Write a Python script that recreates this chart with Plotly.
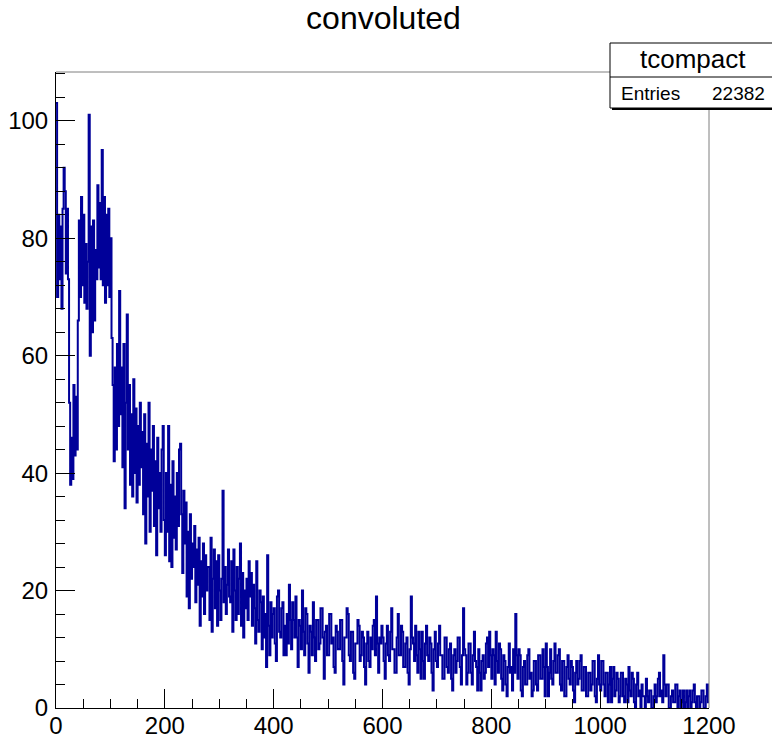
import plotly.graph_objects as go

# ---- data (bin width 2) ----
bin_width = 2
x_start = 0
counts_0_200 = [103, 70, 84, 73, 82, 68, 85, 92, 88, 74, 85, 73, 52, 38, 46, 39, 55, 43, 53, 44,
                66, 83, 70, 87, 72, 84, 69, 79, 68, 76, 101, 60, 82, 64, 83, 66, 78, 73, 89, 75,
                86, 73, 95, 72, 87, 69, 84, 72, 85, 70, 80, 63, 55, 42, 58, 44, 62, 48, 71, 50,
                58, 41, 62, 34, 52, 67, 44, 55, 38, 50, 36, 56, 40, 51, 35, 48, 38, 52, 41, 47,
                33, 50, 28, 45, 36, 52, 30, 44, 37, 48, 31, 42, 26, 46, 34, 40, 30, 44, 48, 32]
counts_200_400 = [26, 40, 30, 48, 25, 38, 24, 42, 29, 36, 27, 40, 31, 44, 45, 33, 23, 37, 28, 35,
                  19, 30, 17, 33, 22, 28, 24, 31, 18, 27, 21, 29, 14, 25, 19, 28, 16, 26, 20, 24,
                  24, 15, 29, 13, 22, 27, 17, 25, 14, 26, 20, 15, 22, 37, 18, 24, 16, 21, 27, 19,
                  18, 25, 13, 27, 20, 15, 24, 16, 22, 28, 14, 23, 12, 20, 17, 22, 15, 25, 19, 23,
                  14, 21, 17, 11, 25, 15, 13, 20, 18, 10, 19, 12, 16, 7, 26, 14, 9, 18, 12, 16]
counts_400_600 = [17, 11, 8, 19, 20, 13, 12, 17, 18, 9, 14, 9, 16, 11, 21, 15, 10, 18, 15, 12,
                  19, 12, 7, 15, 14, 10, 20, 13, 9, 17, 16, 11, 6, 14, 13, 9, 18, 12, 8, 15,
                  15, 10, 11, 17, 17, 12, 5, 13, 14, 9, 9, 16, 16, 11, 12, 7, 6, 14, 13, 10,
                  10, 15, 15, 8, 4, 12, 12, 17, 16, 9, 8, 13, 13, 6, 5, 11, 11, 15, 14, 8,
                  9, 13, 12, 7, 4, 11, 13, 8, 7, 12, 10, 14, 15, 9, 19, 11, 6, 12, 11, 14]
counts_600_800 = [12, 8, 5, 11, 14, 9, 8, 13, 17, 10, 10, 6, 6, 12, 16, 9, 9, 14, 13, 7,
                  7, 11, 12, 6, 4, 10, 19, 12, 11, 8, 14, 9, 6, 13, 10, 5, 13, 8, 5, 11,
                  14, 9, 8, 12, 11, 6, 3, 10, 13, 8, 7, 11, 14, 9, 9, 5, 5, 12, 12, 7,
                  6, 10, 11, 5, 3, 9, 10, 6, 8, 12, 12, 7, 4, 9, 17, 10, 9, 4, 6, 11,
                  11, 6, 4, 9, 13, 8, 7, 3, 10, 6, 3, 8, 9, 5, 6, 11, 12, 7, 13, 9]
counts_800_1000 = [5, 10, 9, 4, 13, 8, 6, 11, 10, 5, 3, 9, 8, 4, 2, 7, 11, 6, 7, 3,
                   10, 6, 16, 9, 5, 10, 9, 3, 2, 7, 8, 4, 4, 9, 10, 5, 6, 2, 3, 8,
                   8, 4, 3, 9, 9, 5, 5, 10, 7, 2, 11, 7, 2, 6, 10, 5, 4, 8, 11, 6,
                   6, 9, 10, 4, 3, 8, 8, 2, 2, 7, 9, 5, 4, 8, 7, 3, 1, 6, 8, 4,
                   5, 8, 9, 3, 3, 7, 7, 2, 2, 6, 6, 3, 4, 8, 8, 2, 1, 5, 9, 4]
counts_1000_1200 = [3, 8, 8, 4, 2, 6, 6, 1, 4, 7, 1, 5, 7, 2, 3, 6, 5, 1, 2, 6,
                    6, 2, 1, 5, 4, 1, 7, 3, 2, 6, 5, 1, 0, 4, 6, 2, 3, 0, 4, 2,
                    2, 0, 5, 2, 1, 3, 3, 0, 0, 2, 4, 1, 2, 5, 6, 2, 3, 1, 9, 4,
                    2, 4, 4, 0, 0, 2, 3, 1, 1, 4, 4, 0, 2, 3, 0, 1, 3, 0, 1, 3,
                    0, 2, 3, 0, 1, 3, 4, 1, 0, 2, 2, 0, 1, 3, 3, 0, 0, 2, 4, 1]

title_text = "convoluted"
stats_name = "tcompact"
stats_label = "Entries"
stats_entries = "22382"
x_range = [0, 1200]
y_range = [0, 108.3]

counts = (counts_0_200 + counts_200_400 + counts_400_600 +
          counts_600_800 + counts_800_1000 + counts_1000_1200)
edges = [x_start + i * bin_width for i in range(len(counts) + 1)]
ys = counts + [counts[-1]]

# ---- layout geometry (pixels) ----
W, H = 772, 740
L, R, T, B = 56, 709, 72, 708
FONT = "Liberation Sans, Arial, Helvetica, sans-serif"


def px_x(p):
    return (p - L) / (R - L)


def px_y(p):
    return (B - p) / (B - T)


fig = go.Figure()
fig.add_trace(go.Scatter(
    x=edges, y=ys, mode="lines",
    line=dict(shape="hv", color="#000099", width=2),
    hoverinfo="skip", showlegend=False,
))

axis_common = dict(
    showgrid=False, zeroline=False, automargin=False,
    showline=True, linecolor="black", linewidth=1,
    ticks="inside", tickcolor="black", tickwidth=1, ticklen=19,
    tickfont=dict(family=FONT, size=24, color="black"),
)

fig.update_layout(
    width=W, height=H,
    margin=dict(l=L, r=W - R, t=T, b=H - B, pad=0, autoexpand=False),
    paper_bgcolor="white", plot_bgcolor="white",
    title=dict(text=title_text, x=383.5 / W, xref="container", xanchor="center",
               y=1 - 18 / H, yref="container", yanchor="middle",
               font=dict(family=FONT, size=32, color="black")),
    xaxis=dict(range=x_range, tickmode="linear", tick0=0, dtick=200,
               minor=dict(ticks="inside", ticklen=9, tickcolor="black", tick0=0, dtick=50, showgrid=False),
               ticklabelstandoff=-4,
               **axis_common),
    yaxis=dict(range=y_range, tickmode="linear", tick0=0, dtick=20,
               minor=dict(ticks="inside", ticklen=9, tickcolor="black", tick0=0, dtick=4, showgrid=False),
               ticklabelstandoff=2,
               **axis_common),
    showlegend=False,
)

shapes = [
    # frame top and right
    dict(type="line", xref="paper", yref="paper", x0=0, x1=1, y0=1, y1=1,
         line=dict(color="#7f7f7f", width=1)),
    dict(type="line", xref="paper", yref="paper", x0=1, x1=1, y0=0, y1=1,
         line=dict(color="#7f7f7f", width=1)),
    # stats box shadow
    dict(type="rect", xref="paper", yref="paper",
         x0=px_x(612), x1=px_x(776), y0=px_y(110), y1=px_y(45),
         fillcolor="black", line=dict(width=0)),
    # stats box
    dict(type="rect", xref="paper", yref="paper",
         x0=px_x(610), x1=px_x(774), y0=px_y(108), y1=px_y(43),
         fillcolor="white", line=dict(color="black", width=1)),
    dict(type="line", xref="paper", yref="paper",
         x0=px_x(610), x1=px_x(774), y0=px_y(77), y1=px_y(77),
         line=dict(color="black", width=1)),
]
fig.update_layout(shapes=shapes)

fig.add_annotation(text=stats_name, xref="paper", yref="paper",
                   x=px_x(692.5), y=px_y(59), xanchor="center", yanchor="middle",
                   showarrow=False, font=dict(family=FONT, size=26, color="black"))
fig.add_annotation(text=stats_label, xref="paper", yref="paper",
                   x=px_x(619), y=px_y(93), xanchor="left", yanchor="middle",
                   showarrow=False, font=dict(family=FONT, size=19, color="black"))
fig.add_annotation(text=stats_entries, xref="paper", yref="paper",
                   x=px_x(767), y=px_y(93), xanchor="right", yanchor="middle",
                   showarrow=False, font=dict(family=FONT, size=19, color="black"))

fig.write_html("out.html", config={"displayModeBar": False},
               post_script="document.body.style.margin='0px';document.body.style.padding='0px';")
